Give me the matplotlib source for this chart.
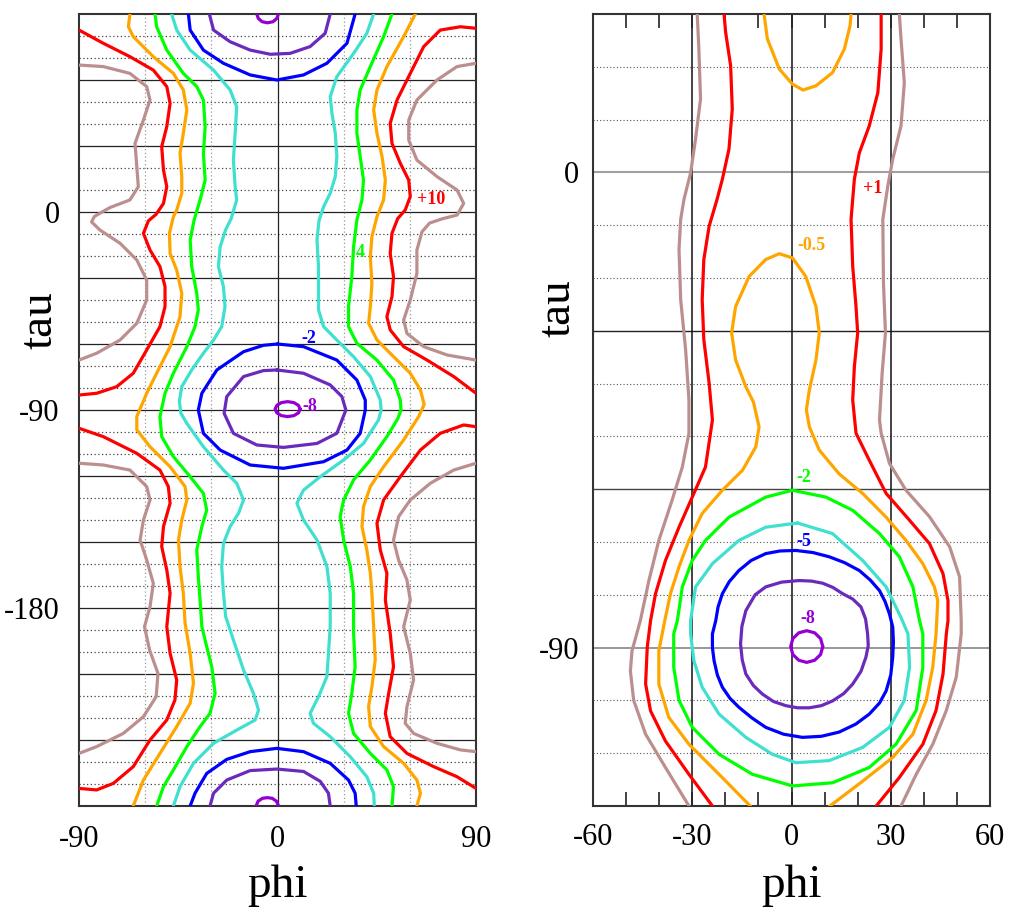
import matplotlib
matplotlib.use("Agg")
import matplotlib.pyplot as plt
import numpy as np

plt.rcParams['font.family'] = ['Liberation Serif', 'DejaVu Serif']
plt.rcParams['axes.unicode_minus'] = False

# ---------------- dados: painel esquerdo (phi, tau) ----------------
L_violet_top = [(-9.4, 90), (-8.7, 88.0), (-7.0, 86.5), (-4.5, 86.0), (-2.0, 86.5), (-0.3, 88.0), (0.4, 90)]
L_purple_top = [(-30.9, 90), (-29.0, 82.7), (-21.5, 77.4), (-12.4, 73.6), (-3.3, 71.7), (5.7, 72.1),
                (14.8, 75.2), (21.6, 81.2), (23.9, 90)]
L_blue_top = [(-40.4, 90), (-39.6, 82.7), (-33.6, 73.6), (-24.5, 67.6), (-12.4, 62.3), (-0.3, 60.0),
              (11.8, 62.3), (22.4, 67.6), (31.5, 76.7), (35.2, 90)]

L_violet_mid = [(10.3, -89.6), (9.5, -87.9), (7.45, -86.65), (4.6, -86.2), (1.75, -86.65), (-0.3, -87.9),
                (-1.1, -89.6), (-0.3, -91.3), (1.75, -92.55), (4.6, -93.0), (7.45, -92.55), (9.5, -91.3),
                (10.3, -89.6)]
L_purple_mid = [(-0.3, -71.8), (11.8, -73.3), (23.9, -78.6), (29.2, -83.9), (31.0, -90.0), (26.9, -100.6),
                (17.9, -105.2), (2.7, -107.0), (-9.4, -105.9), (-20.0, -100.6), (-24.2, -91.5),
                (-23.0, -83.9), (-15.4, -74.8), (-6.4, -72.1), (-0.3, -71.8)]
L_blue_mid = [(0.0, -60.0), (11.8, -61.2), (26.9, -67.3), (36.0, -76.4), (39.8, -85.5), (39.8, -90.0),
              (37.5, -100.6), (31.5, -108.2), (20.9, -113.5), (2.7, -116.5), (-12.4, -115.0),
              (-26.0, -108.2), (-33.6, -100.6), (-35.9, -90.0), (-34.3, -82.4), (-27.5, -71.8),
              (-15.4, -63.5), (-6.4, -60.6), (0.0, -60.0)]

L_violet_bot = [(-9.7, -270), (-8.8, -267.8), (-6.8, -266.5), (-4.6, -266.2), (-2.4, -266.5), (-0.5, -267.8), (0.5, -270)]
L_purple_bot = [(-30.6, -270), (-29.0, -264.2), (-23.0, -258.2), (-12.4, -253.9), (-0.3, -253.2),
                (11.8, -254.3), (19.4, -258.8), (23.1, -264.2), (23.9, -270)]
L_blue_bot = [(-39.6, -270), (-37.4, -264.2), (-32.1, -255.2), (-23.0, -248.8), (-12.4, -245.3),
              (-0.3, -243.8), (11.8, -245.3), (23.9, -250.6), (32.2, -258.2), (35.2, -264.2), (35.7, -270)]

L_turq_left = [(-48.0, 90), (-45.7, 82.7), (-39.6, 73.6), (-29.0, 64.5), (-21.5, 55.5), (-18.5, 47.9),
               (-19.2, 35.8), (-20.0, 23.6), (-19.2, 11.5), (-18.5, 5.5), (-21.0, -3.0), (-23.5, -8.0),
               (-26.0, -15.8), (-26.8, -24.8), (-24.5, -33.9), (-23.8, -43.0), (-25.3, -52.1),
               (-29.0, -58.2), (-33.6, -64.2), (-38.9, -71.8), (-43.4, -79.4), (-44.5, -86.0),
               (-43.8, -91.5), (-41.1, -96.1), (-33.6, -106.7), (-24.5, -117.3), (-18.5, -123.3),
               (-15.4, -130.9), (-17.7, -137.0), (-21.5, -143.0), (-24.5, -150.6), (-25.3, -161.2),
               (-24.5, -173.3), (-23.5, -183.9), (-20.0, -194.5), (-15.4, -208.2), (-10.9, -218.8),
               (-8.6, -226.4), (-10.1, -230.9), (-18.5, -235.5), (-29.0, -241.5), (-38.1, -250.6),
               (-44.2, -261.2), (-47.2, -270)]
L_turq_right = [(43.6, 90), (40.5, 81.2), (34.5, 72.1), (26.9, 61.5), (23.9, 52.4), (24.7, 44.8),
                (26.2, 35.8), (26.9, 25.2), (26.2, 16.1), (23.9, 8.5), (20.9, 2.4), (18.8, -4.0),
                (17.9, -12.7), (18.6, -24.8), (18.6, -44.5), (20.9, -52.1), (26.9, -58.2), (34.5, -65.8),
                (42.1, -74.8), (46.6, -85.5), (47.0, -90.0), (45.8, -94.5), (39.0, -105.2), (30.0, -112.7),
                (19.4, -120.3), (11.8, -126.4), (8.8, -132.4), (11.8, -140.0), (17.9, -149.1),
                (22.4, -161.2), (23.9, -173.3), (23.9, -188.5), (23.1, -200.6), (22.4, -211.2),
                (18.6, -220.3), (14.8, -227.9), (16.3, -232.4), (23.9, -238.5), (33.0, -247.6),
                (40.5, -256.7), (43.6, -264.2), (43.9, -270)]

L_green_left = [(-55.5, 90), (-54.8, 84.2), (-50.2, 73.6), (-42.7, 63.0), (-36.6, 57.0), (-33.6, 50.9),
                (-32.8, 38.8), (-33.6, 26.7), (-32.8, 14.5), (-35.1, 5.5), (-37.8, -3.6), (-39.6, -12.7),
                (-38.9, -24.8), (-36.6, -37.0), (-35.9, -44.5), (-37.4, -52.1), (-41.1, -61.2),
                (-47.2, -73.3), (-51.0, -82.4), (-53.3, -93.0), (-52.5, -102.1), (-47.2, -111.2),
                (-39.6, -120.3), (-33.6, -127.9), (-32.1, -135.5), (-34.3, -143.0), (-36.6, -153.6),
                (-35.9, -165.8), (-35.1, -176.4), (-34.3, -188.5), (-32.1, -197.6), (-29.8, -206.7),
                (-28.3, -218.8), (-30.6, -227.9), (-35.1, -233.9), (-41.1, -243.0), (-47.2, -253.6),
                (-51.7, -261.2), (-54.8, -270)]
L_green_right = [(51.9, 90), (48.1, 79.7), (42.1, 66.1), (37.5, 55.5), (36.0, 46.4), (36.0, 35.8),
                 (37.5, 25.2), (39.0, 14.5), (38.3, 5.5), (36.0, -3.6), (34.5, -15.8), (33.7, -29.4),
                 (32.2, -43.0), (32.2, -52.1), (36.0, -59.7), (45.1, -67.3), (52.6, -76.4), (55.7, -85.5),
                 (56.0, -90.0), (54.5, -94.0), (49.6, -102.1), (42.1, -112.7), (34.5, -121.8),
                 (30.0, -130.9), (28.4, -138.5), (30.0, -149.1), (33.0, -161.2), (34.5, -173.3),
                 (34.5, -191.5), (35.2, -206.7), (33.7, -218.8), (32.2, -227.9), (34.5, -237.0),
                 (42.1, -246.1), (49.6, -253.6), (52.6, -261.2), (51.9, -270)]

L_orange_left = [(-66.9, 90), (-67.6, 84.2), (-65.4, 79.7), (-56.3, 70.6), (-47.2, 63.0), (-42.7, 55.5),
                 (-41.1, 46.4), (-42.7, 35.8), (-44.2, 26.7), (-43.4, 16.1), (-43.4, 8.5), (-45.7, 0.9),
                 (-47.2, -2.1), (-49.0, -9.7), (-48.7, -18.8), (-45.7, -26.4), (-43.4, -37.0),
                 (-44.2, -47.6), (-48.7, -61.2), (-54.8, -73.3), (-59.3, -82.4), (-63.8, -93.0),
                 (-63.8, -99.0), (-57.8, -106.7), (-48.7, -115.8), (-41.9, -124.8), (-41.1, -130.9),
                 (-43.4, -140.0), (-44.9, -149.1), (-44.2, -161.2), (-42.7, -173.3), (-41.9, -187.0),
                 (-39.6, -200.6), (-38.1, -214.2), (-39.6, -223.3), (-45.7, -233.9), (-53.3, -246.1),
                 (-60.8, -258.2), (-65.4, -270)]
L_orange_right = [(62.5, 90), (57.2, 79.7), (49.6, 66.1), (45.1, 55.5), (43.6, 46.4), (45.1, 35.8),
                  (47.4, 25.2), (48.9, 14.5), (48.1, 5.5), (45.1, -2.1), (42.8, -11.2), (42.1, -20.3),
                  (42.8, -32.4), (42.1, -43.0), (41.3, -50.6), (45.1, -58.2), (51.1, -64.2), (60.2, -73.3),
                  (64.8, -80.9), (66.5, -87.5), (64.0, -93.0), (57.2, -103.6), (48.1, -115.8),
                  (42.1, -124.8), (39.0, -133.9), (38.3, -143.0), (40.5, -153.6), (42.1, -164.2),
                  (42.8, -173.3), (43.6, -188.5), (44.3, -203.6), (42.8, -215.8), (41.3, -224.8),
                  (42.1, -233.9), (48.1, -243.0), (57.2, -250.6), (63.2, -258.2), (64.8, -264.2), (63.2, -270)]

L_red_left_a = [(-90, 82.7), (-79.0, 76.7), (-66.9, 70.6), (-56.3, 64.5), (-50.2, 57.0), (-48.7, 49.4),
                (-50.2, 38.8), (-52.5, 29.7), (-51.7, 19.1), (-50.2, 11.5), (-51.7, 3.9), (-55.0, -1.0),
                (-58.5, -4.0), (-60.8, -9.7), (-57.8, -17.3), (-53.3, -24.8), (-51.0, -33.9), (-51.0, -43.0),
                (-53.3, -52.1), (-59.3, -62.7), (-65.4, -73.3), (-72.9, -79.4), (-82.0, -82.4), (-90, -83.2)]
L_red_left_b = [(-90, -98.3), (-79.0, -102.1), (-63.8, -109.7), (-53.3, -117.3), (-49.5, -124.8),
                (-48.7, -132.4), (-51.7, -143.0), (-52.5, -152.1), (-50.2, -162.7), (-48.7, -173.3),
                (-50.2, -188.5), (-48.7, -200.6), (-45.7, -212.7), (-46.5, -221.8), (-50.2, -230.9),
                (-57.8, -240.0), (-65.4, -252.1), (-74.4, -259.7), (-82.0, -262.7), (-90, -262.0)]
L_red_right_a = [(90, 83.5), (82.9, 84.2), (73.8, 82.7), (66.3, 75.2), (60.2, 63.0), (54.2, 50.9),
                 (51.1, 40.3), (51.9, 31.2), (55.7, 22.1), (59.5, 14.5), (60.2, 7.0), (57.9, 0.9),
                 (54.5, -3.0), (51.9, -9.7), (51.1, -18.8), (52.6, -29.4), (51.9, -38.5), (49.6, -47.6),
                 (51.1, -53.6), (57.2, -61.2), (67.8, -67.3), (79.9, -74.8), (90, -82.4)]
L_red_right_b = [(90, -97.6), (84.4, -96.8), (73.8, -100.6), (64.8, -108.2), (55.7, -120.3),
                 (48.1, -130.9), (45.1, -141.5), (46.6, -153.6), (49.6, -164.2), (48.9, -176.4),
                 (51.1, -191.5), (52.6, -206.7), (50.4, -218.8), (48.9, -227.9), (51.1, -238.5),
                 (58.7, -246.1), (70.8, -252.1), (81.4, -256.7), (90, -262.0)]

L_brown_left_a = [(-90, 66.8), (-79.0, 66.1), (-66.9, 63.0), (-59.3, 57.0), (-57.8, 50.9), (-60.8, 41.8),
                  (-64.6, 31.2), (-63.8, 20.6), (-63.1, 11.5), (-66.9, 5.5), (-76.0, 2.0), (-83.0, -2.0),
                  (-84.3, -4.5), (-80.5, -8.2), (-71.4, -14.2), (-63.8, -21.8), (-59.3, -30.9),
                  (-59.3, -40.0), (-63.8, -50.6), (-71.4, -58.2), (-82.0, -64.2), (-90, -67.3)]
L_brown_left_b = [(-90, -114.2), (-79.0, -115.0), (-66.9, -117.3), (-59.3, -124.8), (-57.8, -130.9),
                  (-60.8, -140.0), (-62.3, -149.1), (-59.3, -158.2), (-56.3, -168.8), (-57.8, -179.4),
                  (-60.3, -188.5), (-58.0, -199.1), (-54.2, -209.7), (-55.0, -220.3), (-60.8, -229.4),
                  (-69.9, -237.0), (-82.0, -243.0), (-90, -246.1)]
L_brown_right_a = [(90, 67.6), (81.4, 66.1), (72.3, 60.0), (63.2, 50.9), (59.5, 41.8), (59.5, 32.7),
                   (63.2, 23.6), (72.3, 16.1), (81.4, 10.0), (84.4, 3.9), (81.4, -1.4), (75.0, -3.0),
                   (69.0, -5.0), (65.5, -9.0), (63.2, -17.3), (63.2, -27.9), (60.2, -40.0), (57.2, -49.1),
                   (58.7, -55.2), (66.3, -61.2), (76.9, -65.0), (90, -67.3)]
L_brown_right_b = [(90, -114.2), (79.9, -117.3), (69.3, -123.3), (60.2, -130.9), (54.9, -138.5),
                   (52.6, -149.1), (54.9, -158.2), (58.7, -167.3), (60.2, -176.4), (57.2, -188.5),
                   (60.2, -200.6), (61.7, -212.7), (58.7, -224.8), (57.9, -232.4), (61.7, -237.0),
                   (72.3, -241.5), (82.9, -244.5), (90, -245.3)]

# rotulos das curvas (texto, phi, tau)
L_labels = [('+10', 69.6, 5.5), ('4', 37.4, -18.2), ('-2', 14.3, -57.7), ('-8', 14.7, -88.2)]

# ---------------- dados: painel direito (phi, tau) ----------------
R_violet = [(9.45, -89.8), (8.8, -88.3), (7.0, -87.2), (4.6, -86.8), (2.2, -87.2), (0.4, -88.3),
            (-0.25, -89.8), (0.4, -91.3), (2.2, -92.4), (4.6, -92.8), (7.0, -92.4), (8.8, -91.3),
            (9.45, -89.8)]
R_purple = [(2.3, -77.3), (-3.0, -77.6), (-7.8, -78.5), (-11.0, -80.0), (-13.8, -83.0), (-15.0, -86.0),
            (-15.4, -89.3), (-14.9, -92.3), (-13.8, -95.0), (-11.5, -97.2), (-8.8, -98.8), (-5.5, -100.2),
            (-1.7, -101.0), (1.8, -101.4), (5.4, -101.4), (9.0, -101.0), (12.4, -100.1), (15.8, -98.7),
            (18.5, -96.9), (21.0, -94.5), (22.5, -91.8), (23.2, -89.6), (23.0, -87.4), (22.4, -84.6),
            (21.0, -82.3), (18.5, -80.8), (15.5, -79.8), (12.5, -78.6), (9.4, -77.8), (6.0, -77.4), (2.3, -77.3)]
R_blue = [(1.3, -71.6), (-3.5, -71.7), (-7.8, -72.2), (-12.2, -73.5), (-15.9, -75.4), (-18.8, -77.5),
          (-20.9, -79.8), (-22.2, -82.3), (-22.9, -84.9), (-23.9, -87.4), (-23.9, -90.0), (-23.4, -92.5),
          (-22.4, -95.2), (-20.9, -97.5), (-18.6, -99.6), (-15.9, -101.3), (-12.0, -103.3), (-7.8, -105.1),
          (-2.4, -106.4), (3.3, -107.0), (9.0, -106.8), (14.4, -106.0), (19.4, -104.5), (23.5, -102.6),
          (26.6, -100.5), (28.6, -98.2), (30.0, -95.2), (30.6, -91.8), (30.8, -88.9), (30.6, -86.1),
          (29.6, -83.6), (28.3, -81.3), (26.6, -79.2), (23.8, -77.2), (20.5, -75.4), (16.0, -73.9),
          (11.4, -72.8), (6.5, -72.0), (1.3, -71.6)]
R_turq = [(1.8, -66.4), (-7.8, -67.2), (-15.9, -69.7), (-23.9, -74.1), (-29.0, -78.5), (-30.5, -84.9),
          (-30.5, -87.4), (-29.5, -92.5), (-27.0, -97.5), (-21.9, -102.6), (-13.8, -107.0), (-5.8, -110.2),
          (1.3, -111.8), (11.4, -111.4), (21.5, -108.9), (29.6, -105.1), (34.1, -100.0), (35.7, -93.7),
          (35.2, -87.4), (33.1, -84.3), (28.6, -78.5), (21.5, -73.5), (12.4, -68.4), (1.8, -66.4)]
R_green = [(0.3, -60.2), (-7.8, -61.5), (-18.9, -65.3), (-26.0, -69.7), (-30.0, -73.5), (-33.0, -78.5),
           (-34.5, -84.9), (-35.6, -87.4), (-35.6, -93.7), (-34.0, -100.0), (-30.0, -105.1), (-21.9, -110.2),
           (-11.8, -114.0), (0.3, -116.2), (12.4, -115.6), (23.5, -112.7), (31.6, -108.3), (37.7, -101.9),
           (39.7, -93.7), (39.7, -87.4), (38.7, -84.9), (36.7, -78.5), (32.6, -72.8), (26.6, -68.4),
           (18.5, -64.0), (10.4, -61.5), (0.3, -60.2)]
R_orange_top = [(-8.3, 30), (-7.3, 25.3), (-3.7, 19.6), (0.3, 16.7), (3.5, 15.6), (7.4, 16.4), (12.4, 18.9),
                (16.0, 23.4), (17.7, 27.8), (18.0, 30)]
R_orange = [(-12.3, -120.1), (-21.9, -114.0), (-31.0, -108.3), (-37.1, -103.2), (-40.1, -96.9),
            (-40.1, -90.6), (-38.3, -84.9), (-36.6, -79.8), (-34.0, -74.7), (-31.0, -69.7), (-27.0, -64.6),
            (-20.9, -60.2), (-14.8, -56.4), (-10.8, -52.0), (-9.8, -48.2), (-11.5, -43.5), (-13.8, -40.6),
            (-16.9, -35.5), (-18.1, -30.4), (-16.9, -25.4), (-12.8, -19.7), (-7.8, -16.5), (-3.7, -15.4),
            (0.3, -16.2), (4.3, -19.7), (7.4, -25.4), (8.4, -30.4), (7.4, -35.5), (5.4, -41.2), (4.5, -45.0),
            (5.4, -48.2), (8.4, -52.6), (14.4, -57.1), (21.5, -60.8), (28.6, -65.3), (34.6, -69.7),
            (39.7, -74.1), (43.2, -78.5), (44.2, -81.1), (43.7, -87.4), (42.7, -93.7), (40.7, -100.0),
            (36.7, -106.4), (30.6, -110.8), (21.5, -115.3), (11.4, -120.1)]
R_red_left = [(-20.4, 30), (-19.9, 26.5), (-18.4, 20.2), (-17.9, 12.0), (-18.9, 4.4), (-20.9, -1.3),
              (-22.5, -5.1), (-24.9, -10.2), (-26.5, -16.5), (-27.0, -24.1), (-26.5, -31.7), (-24.9, -39.9),
              (-23.9, -46.9), (-26.0, -55.8), (-30.0, -61.5), (-34.0, -67.2), (-38.1, -73.5), (-41.1, -79.8),
              (-42.6, -84.9), (-43.6, -89.9), (-44.1, -96.9), (-42.6, -102.0), (-38.1, -107.7),
              (-31.0, -114.0), (-23.9, -120)]
R_red_right = [(27.1, 30), (27.1, 23.4), (26.1, 15.1), (23.5, 8.8), (20.5, 3.7), (19.0, -1.3), (18.0, -8.9),
               (18.5, -17.8), (19.5, -25.4), (20.0, -30.4), (19.0, -36.8), (18.5, -43.1), (19.5, -49.4),
               (23.5, -54.5), (28.6, -60.8), (35.7, -65.9), (41.7, -70.3), (45.8, -76.0), (47.3, -81.1),
               (47.3, -84.9), (46.8, -87.4), (45.8, -95.0), (43.7, -101.9), (39.7, -108.3), (32.6, -114.6),
               (25.6, -120)]
R_brown_left = [(-28.5, 30), (-28.0, 23.4), (-27.5, 13.9), (-29.0, 6.3), (-30.5, -0.1), (-32.5, -5.1),
                (-33.5, -8.9), (-34.0, -14.6), (-33.5, -24.1), (-32.0, -33.6), (-31.0, -43.1), (-31.0, -49.4),
                (-33.0, -55.8), (-36.1, -62.1), (-40.1, -69.7), (-43.1, -77.3), (-45.7, -84.9),
                (-48.2, -90.6), (-48.7, -94.4), (-47.7, -100.0), (-44.1, -106.4), (-38.1, -112.7), (-31.0, -120)]
R_brown_right = [(32.6, 30), (33.1, 25.3), (34.1, 17.0), (33.1, 8.8), (30.6, 2.5), (29.1, -2.6), (27.6, -8.9),
                 (27.8, -20.9), (28.4, -30.4), (27.4, -38.0), (26.6, -46.9), (27.1, -49.4), (29.6, -55.1),
                 (34.6, -60.2), (41.7, -65.2), (47.8, -70.9), (50.8, -76.6), (51.3, -84.9), (51.3, -87.4),
                 (49.8, -95.6), (46.8, -101.9), (42.7, -108.3), (37.7, -114.0), (33.1, -120)]

R_labels = [('+1', 24.6, -3.0), ('-0.5', 5.9, -13.9), ('-2', 3.8, -57.7), ('-5', 3.8, -70.0), ('-8', 5.0, -84.5)]

# ---------------- estilos ----------------
VIOLET = '#9400d3'
PURPLE = '#6a2bbd'
BLUE = '#0000ff'
TURQ = '#40e0d0'
GREEN = '#00ff00'
ORANGE = '#ffa500'
RED = '#ff0000'
BROWN = '#bc8f8f'

curvas_esq = [
    (L_brown_left_a, BROWN), (L_brown_left_b, BROWN), (L_brown_right_a, BROWN), (L_brown_right_b, BROWN),
    (L_red_left_a, RED), (L_red_left_b, RED), (L_red_right_a, RED), (L_red_right_b, RED),
    (L_orange_left, ORANGE), (L_orange_right, ORANGE),
    (L_green_left, GREEN), (L_green_right, GREEN),
    (L_turq_left, TURQ), (L_turq_right, TURQ),
    (L_blue_top, BLUE), (L_blue_mid, BLUE), (L_blue_bot, BLUE),
    (L_purple_top, PURPLE), (L_purple_mid, PURPLE), (L_purple_bot, PURPLE),
    (L_violet_top, VIOLET), (L_violet_mid, VIOLET), (L_violet_bot, VIOLET),
]
cores_rot_esq = [RED, GREEN, BLUE, VIOLET]

curvas_dir = [
    (R_brown_left, BROWN), (R_brown_right, BROWN), (R_red_left, RED), (R_red_right, RED),
    (R_orange_top, ORANGE), (R_orange, ORANGE), (R_green, GREEN), (R_turq, TURQ),
    (R_blue, BLUE), (R_purple, PURPLE), (R_violet, VIOLET),
]
cores_rot_dir = [RED, ORANGE, GREEN, BLUE, VIOLET]


def desenha_curvas(ax, curvas):
    for pts, cor in curvas:
        p = np.array(pts)
        ax.plot(p[:, 0], p[:, 1], color=cor, lw=2.3, solid_joinstyle='round',
                solid_capstyle='round', zorder=3)


def rotulos(ax, labels, cores):
    for (txt, x, y), cor in zip(labels, cores):
        ax.text(x, y, txt, color=cor, fontsize=13, fontweight='bold',
                ha='center', va='center', zorder=4)


def moldura(ax):
    for s in ax.spines.values():
        s.set_linewidth(1.5)
        s.set_color('#333333')


fig = plt.figure(figsize=(10.09, 9.11), dpi=100)

# ---------------- painel esquerdo ----------------
ax1 = fig.add_axes([79 / 1009, 105 / 911, 397 / 1009, 792 / 911])
ax1.set_xlim(-90, 90)
ax1.set_ylim(-270, 90)
for t in range(-260, 90, 10):
    if t % 30 == 0:
        ax1.axhline(t, color='#222222', lw=0.9, zorder=1)
    else:
        ax1.axhline(t, color='#444444', lw=0.9, ls=(0, (1, 2)), zorder=1)
ax1.axvline(0, color='#222222', lw=0.9, zorder=1)
for p in (-60, -30, 30, 60):
    ax1.axvline(p, color='#999999', lw=0.9, ls=(0, (1, 2)), zorder=1)
desenha_curvas(ax1, curvas_esq)
rotulos(ax1, L_labels, cores_rot_esq)
ax1.set_xticks([-90, 0, 90])
ax1.set_yticks([0, -90, -180])
ax1.tick_params(length=0, labelsize=22, pad=14)
ax1.tick_params(axis='y', pad=14)
ax1.set_xlabel('phi', fontsize=34)
ax1.xaxis.label.set_va('center')
ax1.xaxis.set_label_coords(0.5, -0.101)
ax1.set_ylabel('tau', fontsize=34)
ax1.yaxis.label.set_va('center')
ax1.yaxis.set_label_coords(-0.098, 0.614)
moldura(ax1)

# ---------------- painel direito ----------------
ax2 = fig.add_axes([593 / 1009, 105 / 911, 397 / 1009, 792 / 911])
ax2.set_xlim(-60, 60)
ax2.set_ylim(-120, 30)
for t in range(-110, 30, 10):
    if t % 30 != 0:
        ax2.axhline(t, color='#555555', lw=0.8, ls=(0, (1, 2)), zorder=1)
ax2.axhline(0, color='#a0a0a0', lw=1.5, zorder=1)
ax2.axhline(-30, color='#222222', lw=1.0, zorder=1)
ax2.axhline(-60, color='#444444', lw=1.0, zorder=1)
ax2.axhline(-90, color='#909090', lw=1.3, zorder=1)
for p in (-30, 0, 30):
    ax2.axvline(p, color='#111111', lw=1.1, zorder=1)
desenha_curvas(ax2, curvas_dir)
rotulos(ax2, R_labels, cores_rot_dir)
ax2.set_xticks([-60, -30, 0, 30, 60])
ax2.set_xticks(np.arange(-50, 60, 10), minor=True)
ax2.set_yticks([0, -90])
ax2.tick_params(axis='x', which='both', direction='in', top=True, length=10,
                width=1.2, color='#222222', labelsize=22, pad=12)
ax2.tick_params(axis='y', length=0, labelsize=22, pad=10)
ax2.set_xlabel('phi', fontsize=34)
ax2.xaxis.label.set_va('center')
ax2.xaxis.set_label_coords(0.5, -0.101)
ax2.set_ylabel('tau', fontsize=34)
ax2.yaxis.label.set_va('center')
ax2.yaxis.set_label_coords(-0.088, 0.629)
moldura(ax2)

fig.savefig('out.png', dpi=100)
plt.close(fig)
